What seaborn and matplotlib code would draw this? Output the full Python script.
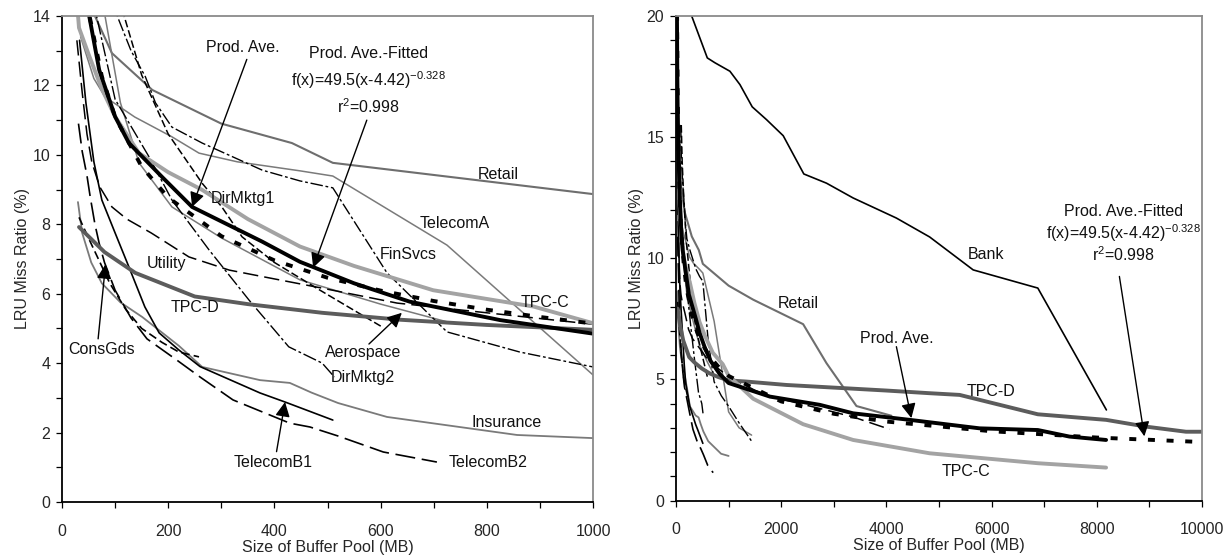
import matplotlib
matplotlib.use("Agg")
import matplotlib.pyplot as plt
from matplotlib.ticker import MultipleLocator
import seaborn as sns

# ---------------- data (MB, LRU miss ratio %) ----------------
retail_x = [45, 62, 94, 170, 300, 433, 510, 1000, 1468, 2417, 2861, 3431, 4095]
retail_y = [15.5, 14.0, 12.93, 11.87, 10.9, 10.34, 9.77, 8.87, 8.29, 7.28, 5.67, 3.9, 3.5]

telecomA_x = [35, 60, 81, 137, 207, 258, 330, 448, 510, 725, 1000, 1200, 1437]
telecomA_y = [13.4, 12.2, 11.67, 11.09, 10.52, 10.05, 9.8, 9.54, 9.39, 7.40, 3.66, 3.0, 2.7]

finsvcs_x = [90, 104, 130, 157, 176, 207, 264, 377, 448, 510, 612, 725, 862, 1000, 1200, 1456]
finsvcs_y = [15.5, 14.0, 13.0, 12.25, 11.5, 10.8, 10.34, 9.56, 9.25, 9.05, 6.6, 4.9, 4.32, 3.89, 3.2, 2.39]

dirmktg1_x = [100, 117, 150, 200, 264, 301, 339, 400, 486, 602]
dirmktg1_y = [15.5, 14.0, 12.3, 10.6, 9.18, 8.5, 7.64, 6.9, 6.1, 5.05]

dirmktg2_x = [50, 65, 100, 164, 207, 277, 352, 427, 490, 513]
dirmktg2_y = [16.0, 14.0, 11.6, 9.94, 8.7, 7.26, 5.82, 4.47, 4.0, 3.6]

aerospace_x = [70, 81, 110, 145, 207, 301, 448, 600, 725]
aerospace_y = [15.5, 14.0, 11.5, 9.77, 8.5, 7.6, 6.4, 5.7, 5.19]

utility_x = [28, 38, 47, 56, 71, 94, 122, 168, 239, 315, 392, 490, 631, 800, 1000, 1500, 1785, 2734, 3367, 4063]
utility_y = [13.3, 11.8, 10.6, 9.8, 9.08, 8.5, 8.15, 7.75, 7.06, 6.68, 6.45, 6.16, 5.73, 5.45, 5.12, 4.55, 4.3, 3.8, 3.45, 2.94]

consgds_x = [32, 50, 70, 90, 120, 150, 188, 220, 258]
consgds_y = [8.2, 7.6, 6.95, 6.3, 5.55, 5.0, 4.6, 4.32, 4.18]

insurance_x = [30, 38, 55, 75, 110, 151, 220, 264, 373, 429, 470, 520, 612, 857, 1000]
insurance_y = [8.64, 7.75, 6.9, 6.3, 5.75, 5.33, 4.5, 3.89, 3.51, 3.43, 3.15, 2.85, 2.45, 1.93, 1.84]

telecomB1_x = [33, 45, 60, 75, 100, 126, 156, 183, 220, 260, 373, 420, 510]
telecomB1_y = [13.3, 11.5, 9.8, 8.7, 7.75, 6.77, 5.62, 4.87, 4.38, 3.9, 3.14, 2.88, 2.36]

telecomB2_x = [31, 38, 47, 53, 62, 70, 80, 100, 130, 160, 216, 260, 322, 429, 467, 520, 605, 706]
telecomB2_y = [10.9, 10.1, 9.4, 8.8, 8.0, 7.45, 6.9, 6.1, 5.3, 4.7, 4.09, 3.6, 2.94, 2.27, 2.16, 1.9, 1.44, 1.15]

tpcc_x = [25, 32, 50, 75, 100, 145, 200, 264, 350, 448, 550, 699, 888, 1000, 1468, 2417, 3367, 4822, 6879, 8177]
tpcc_y = [15.0, 13.66, 12.9, 11.9, 11.1, 10.05, 9.5, 8.99, 8.15, 7.36, 6.8, 6.1, 5.63, 5.15, 4.2, 3.15, 2.5, 1.95, 1.54, 1.36]

tpcd_x = [32, 80, 138, 250, 350, 490, 637, 800, 1000, 1342, 2101, 4000, 4822, 5392, 6879, 8177, 8937, 9696, 10000]
tpcd_y = [7.92, 7.2, 6.6, 5.92, 5.7, 5.45, 5.25, 5.1, 4.96, 4.91, 4.77, 4.54, 4.43, 4.36, 3.56, 3.33, 3.05, 2.84, 2.84]

prodave_x = [15, 25, 35, 50, 70, 100, 126, 188, 245, 377, 448, 550, 655, 825, 1000, 1785, 2734, 3367, 4443, 5772, 6879, 7480, 8177]
prodave_y = [21.0, 17.5, 15.5, 14.1, 12.45, 11.1, 10.34, 9.37, 8.5, 7.5, 6.92, 6.3, 5.77, 5.24, 4.85, 4.29, 3.95, 3.6, 3.33, 2.98, 2.91, 2.64, 2.5]

fitted_x = [20, 30, 50, 75, 100, 150, 200, 300, 400, 500, 600, 700, 800, 900, 1000, 2000, 3000, 4000, 6000, 8000, 9829]
fitted_y = [20.1, 17.1, 14.14, 12.26, 11.09, 9.66, 8.77, 7.66, 6.96, 6.46, 6.09, 5.79, 5.54, 5.33, 5.14, 4.09, 3.58, 3.26, 2.86, 2.60, 2.43]

bank_x = [220, 298, 595, 740, 1025, 1215, 1449, 1722, 2038, 2430, 2861, 3367, 4190, 4822, 5650, 6879, 8183]
bank_y = [21.5, 20.0, 18.27, 18.07, 17.72, 17.17, 16.25, 15.72, 15.06, 13.48, 13.1, 12.49, 11.66, 10.88, 9.52, 8.77, 3.74]

fit_label = ["Prod. Ave.-Fitted", r"f(x)=49.5(x-4.42)$^{\mathregular{-0.328}}$", r"r$^{\mathregular{2}}$=0.998"]

# ---------------- style ----------------
sns.set_theme(style="ticks")
FONT = ['Liberation Sans Narrow', 'Arial Narrow', 'Liberation Sans', 'DejaVu Sans']
plt.rcParams['font.family'] = FONT
plt.rcParams['mathtext.fontset'] = 'custom'
plt.rcParams['mathtext.rm'] = 'Liberation Sans'
FS = 11.5

GRAY = '#7a7a7a'
series = [
    (retail_x, retail_y, '#6e6e6e', 1.5, '-'),
    (telecomA_x, telecomA_y, GRAY, 1.1, '-'),
    (aerospace_x, aerospace_y, GRAY, 1.1, '-'),
    (insurance_x, insurance_y, GRAY, 1.3, '-'),
    (finsvcs_x, finsvcs_y, 'black', 1.0, (0, (9, 2, 2, 2))),
    (dirmktg1_x, dirmktg1_y, 'black', 1.1, (0, (5, 2))),
    (dirmktg2_x, dirmktg2_y, 'black', 1.0, (0, (10, 2, 2, 2))),
    (utility_x, utility_y, 'black', 1.1, (0, (10, 4))),
    (consgds_x, consgds_y, 'black', 1.2, (0, (5, 2.5))),
    (telecomB1_x, telecomB1_y, 'black', 1.2, '-'),
    (telecomB2_x, telecomB2_y, 'black', 1.2, (0, (12, 4))),
    (bank_x, bank_y, 'black', 1.2, '-'),
    (tpcd_x, tpcd_y, '#5c5c5c', 2.8, '-'),
    (tpcc_x, tpcc_y, '#a3a3a3', 2.8, '-'),
    (prodave_x, prodave_y, 'black', 2.8, '-'),
    (fitted_x, fitted_y, 'black', 2.8, (0, (1.8, 3.0))),
]

fig = plt.figure(figsize=(12.28, 5.58), dpi=100)
axL = fig.add_axes([0.0505, 0.1004, 0.4324, 0.8709])
axR = fig.add_axes([0.5505, 0.1030, 0.4283, 0.8683])

for ax in (axL, axR):
    for i, (xs, ys, c, lw, ls) in enumerate(series):
        sns.lineplot(x=xs, y=ys, ax=ax, color=c, linewidth=lw, linestyle=ls,
                     sort=False, estimator=None, legend=False, zorder=2 + i * 0.01)

ARROW = dict(arrowstyle='-|>', color='black', lw=1.0, mutation_scale=22,
             shrinkA=0, shrinkB=0)


def label(ax, x, y, s):
    ax.text(x, y, s, ha='center', va='center', fontsize=FS, color='#111111', zorder=10)


def arrow(ax, x0, y0, x1, y1):
    ax.annotate('', xy=(x1, y1), xytext=(x0, y0), arrowprops=ARROW, zorder=10)


# left panel annotations
label(axL, 341, 13.1, "Prod. Ave.")
arrow(axL, 348, 12.75, 245, 8.5)
label(axL, 577, 12.92, fit_label[0])
label(axL, 577, 12.14, fit_label[1])
label(axL, 577, 11.38, fit_label[2])
arrow(axL, 574, 11.0, 473, 6.75)
label(axL, 821, 9.42, "Retail")
label(axL, 740, 8.03, "TelecomA")
label(axL, 652, 7.12, "FinSvcs")
label(axL, 910, 5.76, "TPC-C")
label(axL, 567, 4.32, "Aerospace")
arrow(axL, 578, 4.55, 640, 5.45)
label(axL, 567, 3.6, "DirMktg2")
label(axL, 838, 2.3, "Insurance")
label(axL, 802, 1.15, "TelecomB2")
label(axL, 398, 1.15, "TelecomB1")
arrow(axL, 404, 1.45, 420, 2.88)
label(axL, 75, 4.38, "ConsGds")
arrow(axL, 68, 4.7, 82, 6.85)
label(axL, 250, 5.6, "TPC-D")
label(axL, 196, 6.87, "Utility")
label(axL, 341, 8.75, "DirMktg1")

# right panel annotations
label(axR, 2323, 8.13, "Retail")
label(axR, 4190, 6.7, "Prod. Ave.")
arrow(axR, 4190, 6.35, 4475, 3.4)
label(axR, 5994, 4.5, "TPC-D")
label(axR, 5519, 1.19, "TPC-C")
label(axR, 5899, 10.14, "Bank")
label(axR, 8500, 11.92, fit_label[0])
label(axR, 8500, 11.04, fit_label[1])
label(axR, 8500, 10.14, fit_label[2])
arrow(axR, 8430, 9.25, 8905, 2.65)

# axes formatting
axL.set_xlim(0, 1000)
axL.set_ylim(0, 14)
axL.xaxis.set_major_locator(MultipleLocator(200))
axL.xaxis.set_minor_locator(MultipleLocator(100))
axL.yaxis.set_major_locator(MultipleLocator(2))
axL.yaxis.set_minor_locator(MultipleLocator(1))

axR.set_xlim(0, 10000)
axR.set_ylim(0, 20)
axR.xaxis.set_major_locator(MultipleLocator(2000))
axR.xaxis.set_minor_locator(MultipleLocator(1000))
axR.yaxis.set_major_locator(MultipleLocator(5))
axR.yaxis.set_minor_locator(MultipleLocator(1))

for ax in (axL, axR):
    ax.set_facecolor('white')
    for side in ('left', 'bottom'):
        ax.spines[side].set_color('black')
        ax.spines[side].set_linewidth(1.3)
    for side in ('top', 'right'):
        ax.spines[side].set_visible(True)
        ax.spines[side].set_color('#8a8a8a')
        ax.spines[side].set_linewidth(1.3)
    ax.tick_params(axis='both', which='both', direction='out', length=4.5, width=0.9,
                   color='black', top=False, right=False)
    ax.tick_params(axis='x', which='major', pad=11, labelsize=FS)
    ax.tick_params(axis='y', which='major', pad=4, labelsize=FS)
    ax.set_xlabel("Size of Buffer Pool (MB)", fontsize=FS, labelpad=1)
    ax.set_ylabel("LRU Miss Ratio (%)", fontsize=FS, labelpad=2)
    ax.grid(False)

fig.savefig("out.png", dpi=100)
